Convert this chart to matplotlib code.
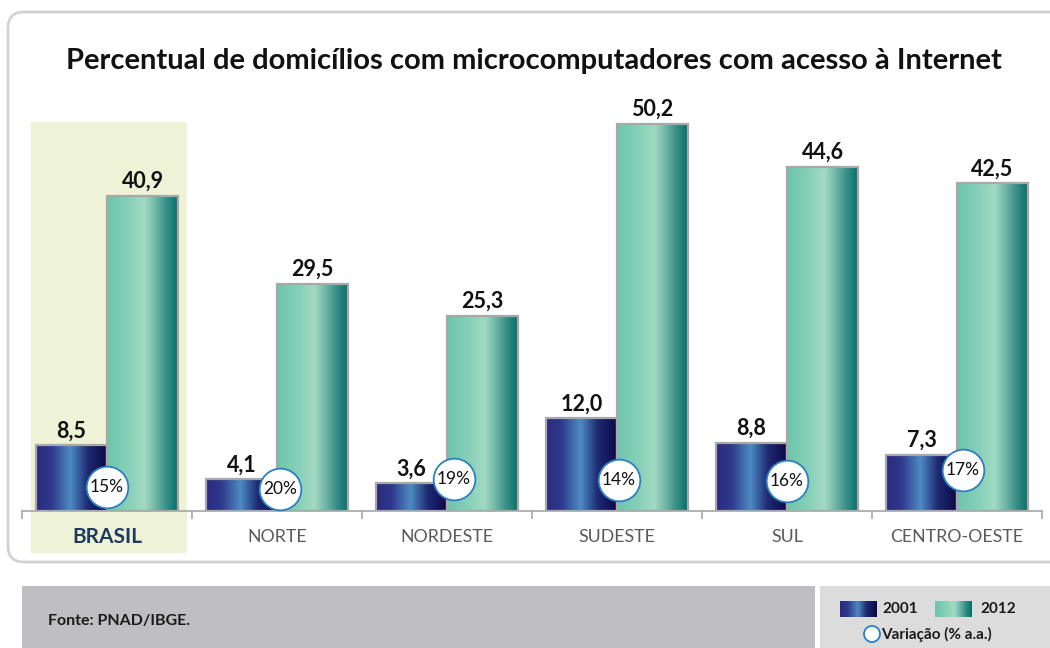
import numpy as np
import matplotlib
matplotlib.use("Agg")
import matplotlib.pyplot as plt
from matplotlib.patches import FancyBboxPatch, Rectangle, Circle
from matplotlib.colors import LinearSegmentedColormap

plt.rcParams['font.family'] = ['Lato', 'DejaVu Sans']

# ---- data ----
regions = ["BRASIL", "NORTE", "NORDESTE", "SUDESTE", "SUL", "CENTRO-OESTE"]
values_2001 = [8.5, 4.1, 3.6, 12.0, 8.8, 7.3]
values_2012 = [40.9, 29.5, 25.3, 50.2, 44.6, 42.5]
growth_pct = [15, 20, 19, 14, 16, 17]
series_labels = ["2001", "2012"]

title = "Percentual de domicílios com microcomputadores com acesso à Internet"
source = "Fonte: PNAD/IBGE."
badge_legend = "Variação (% a.a.)"

# ---- layout (pixels of a 1050x648 canvas) ----
W, H = 1050, 648
badge_dx = [0.0, 0.02, 0.04, 0.01, 0.0, 0.035]   # horizontal nudge, category units
badge_y = [3.1, 2.9, 4.2, 4.0, 3.9, 5.3]          # badge centre height, value units

fig = plt.figure(figsize=(W / 100, H / 100), dpi=100)
fig.patch.set_facecolor("white")

# background canvas in pixel coordinates
bg = fig.add_axes([0, 0, 1, 1], zorder=0)
bg.set_xlim(0, W)
bg.set_ylim(H, 0)
bg.axis("off")

bg.add_patch(FancyBboxPatch((8, 12), 1070, 550, boxstyle="round,pad=0,rounding_size=16",
                            facecolor="white", edgecolor="#d2d2d2", linewidth=2))
# highlight behind the national total
bg.add_patch(Rectangle((31, 122), 156, 431, facecolor="#eef2d6", edgecolor="none"))
# footer boxes
bg.add_patch(Rectangle((22, 586), 793, 70, facecolor="#bfbfc1", edgecolor="none"))
bg.add_patch(Rectangle((820, 586), 240, 70, facecolor="#dcdcdd", edgecolor="none"))
bg.text(48, 621, source, fontsize=11.5, fontweight="bold", color="#1a1a1a", va="center", ha="left")

bg.text(534, 61, title, fontsize=21, fontweight="bold", color="#111111", ha="center", va="center")

# gradient colour maps
cmap_2001 = LinearSegmentedColormap.from_list(
    "c2001", [(0.0, "#2b2a7e"), (0.22, "#2f3a8c"), (0.48, "#4d8bc4"), (0.72, "#1e2a72"), (1.0, "#0a0845")])
cmap_2012 = LinearSegmentedColormap.from_list(
    "c2012", [(0.0, "#6cc6ac"), (0.30, "#86d0b8"), (0.52, "#a3dac4"), (0.68, "#6fb5a6"), (0.82, "#3c8f88"), (1.0, "#006d6a")])
grad = np.linspace(0, 1, 256).reshape(1, -1)

# main axes
base_px, top_px, left_px, right_px = 511, 100, 22, 1042
px_per_unit = 387 / 50.2
ax = fig.add_axes([left_px / W, 1 - base_px / H, (right_px - left_px) / W, (base_px - top_px) / H], zorder=2)
ax.patch.set_alpha(0)

x = np.arange(len(regions))
bw = 0.418

def gradient_bars(xpos, vals, cmap):
    bars = ax.bar(xpos, vals, width=bw, facecolor="none", edgecolor="#a8a8a8", linewidth=1.6, zorder=3)
    for rect in bars:
        x0, w_, h_ = rect.get_x(), rect.get_width(), rect.get_height()
        im = ax.imshow(grad, cmap=cmap, extent=[x0, x0 + w_, 0, h_], aspect="auto",
                       interpolation="bicubic", zorder=2)
        im.set_clip_path(rect)
    return bars

b1 = gradient_bars(x - bw / 2, values_2001, cmap_2001)
b2 = gradient_bars(x + bw / 2, values_2012, cmap_2012)

def fmt(v):
    return f"{v:.1f}".replace(".", ",")

for bars, vals in ((b1, values_2001), (b2, values_2012)):
    for rect, v in zip(bars, vals):
        ax.annotate(fmt(v), (rect.get_x() + rect.get_width() / 2, v), xytext=(0, 8),
                    textcoords="offset pixels", ha="center", va="baseline",
                    fontsize=15.5, fontweight="bold", color="#111111", zorder=5)

# growth badges
for i, g in enumerate(growth_pct):
    bx = x[i] + badge_dx[i]
    ax.scatter([bx], [badge_y[i]], s=900, facecolor="white", edgecolor="#2d7fc1",
               linewidth=1.3, zorder=6, clip_on=False)
    ax.text(bx, badge_y[i], f"{g}%", ha="center", va="center", fontsize=12.5,
            color="#111111", zorder=7)

ax.set_xlim(-0.5, len(regions) - 0.5)
ax.set_ylim(0, (base_px - top_px) / px_per_unit)
ax.set_yticks([])
for s in ("top", "right", "left"):
    ax.spines[s].set_visible(False)
ax.spines["bottom"].set_color("#a6a6a6")
ax.spines["bottom"].set_linewidth(1.2)
ax.set_xticks(np.arange(len(regions) + 1) - 0.5)
ax.set_xticklabels([])
ax.tick_params(axis="x", length=6, color="#a6a6a6", width=1.2, direction="out")

for i, name in enumerate(regions):
    bold = i == 0
    ax.annotate(name, (x[i], 0), xycoords=("data", "axes fraction"), xytext=(0, -26),
                textcoords="offset pixels", ha="center", va="center",
                fontsize=15 if bold else 12.8, fontweight="bold" if bold else "normal",
                color="#1f3b5e" if bold else "#5a5a5a", annotation_clip=False)

# legend in the footer
sw = np.linspace(0, 1, 128).reshape(1, -1)
for x0, cmap, lab, tx in ((840, cmap_2001, series_labels[0], 900), (935, cmap_2012, series_labels[1], 998)):
    bg.imshow(sw, cmap=cmap, extent=[x0, x0 + 37, 617, 601], aspect="auto", interpolation="bicubic", zorder=3)
    bg.text(tx, 609, lab, fontsize=11, fontweight="bold", color="#1a1a1a", ha="center", va="center", zorder=4)
bg.add_patch(Circle((872, 634), 8, facecolor="white", edgecolor="#2d7fc1", linewidth=1.3, zorder=4))
bg.text(881, 634, badge_legend, fontsize=11, fontweight="bold", color="#1a1a1a", ha="left", va="center", zorder=4)
bg.set_xlim(0, W)
bg.set_ylim(H, 0)

fig.savefig("out.png", dpi=100)
